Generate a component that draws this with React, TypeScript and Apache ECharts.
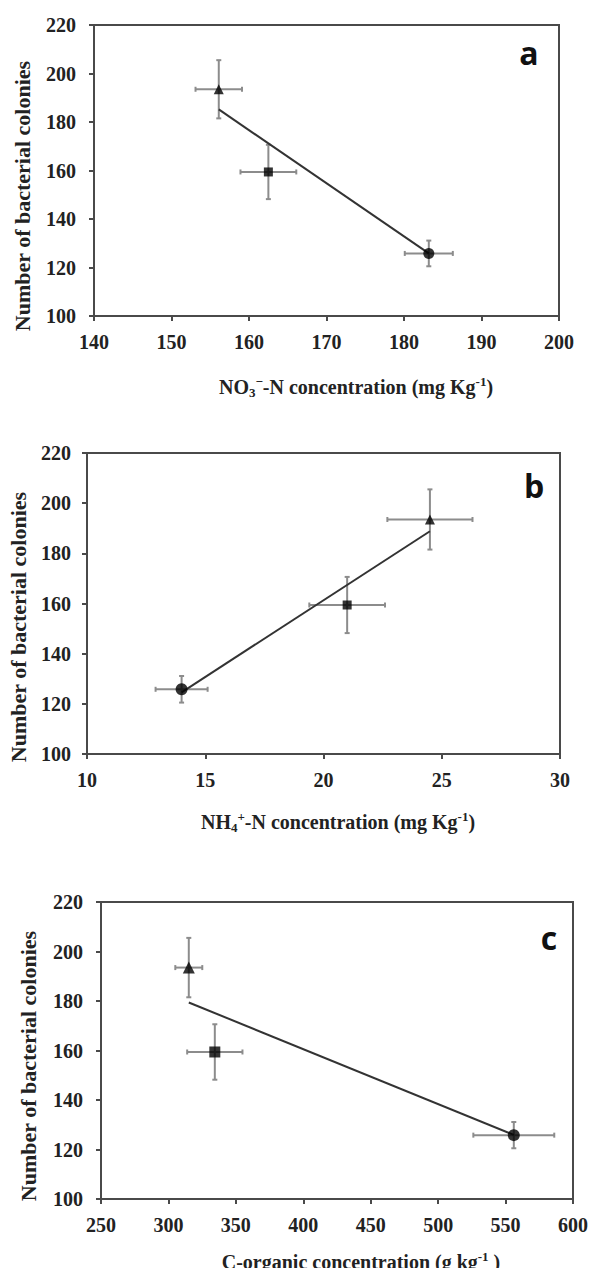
import React, { useEffect, useRef } from "react";
import * as echarts from "echarts";

// ---- data ----
const treatmentSymbols = ["triangle", "rect", "circle"];
const colonies = [193.5, 159.4, 125.8];
const coloniesErr = [12, 11.2, 5.3];

const no3 = [156.1, 162.5, 183.2];
const no3Err = [3.0, 3.6, 3.1];
const no3Trend = [[156.1, 185.2], [183.2, 125.8]];

const nh4 = [24.5, 21.0, 14.0];
const nh4Err = [1.8, 1.6, 1.1];
const nh4Trend = [[14.0, 124.6], [24.5, 188.8]];

const corg = [315.1, 334.4, 556.1];
const corgErr = [10, 20.5, 30];
const corgTrend = [[315.1, 179.4], [556.1, 125.9]];

const yTitle = "Number of bacterial colonies";
const xTitles = [
  "{t|NO}{sub|3}{sup|−}{t|-N concentration (mg Kg}{sup|-1}{t|)}",
  "{t|NH}{sub|4}{sup|+}{t|-N concentration (mg Kg}{sup|-1}{t|)}",
  "{t|C-organic concentration (g kg}{sup|-1}{t| )}",
];
const panelLetters = ["a", "b", "c"];

const SERIF = "Liberation Serif";
const AXIS = "#4a4a4a";

const App: React.FC = () => {
  const ref = useRef<HTMLDivElement>(null);

  useEffect(() => {
    if (!ref.current) return;
    const chart = echarts.init(ref.current, undefined, { renderer: "svg" });

    const grids = [
      { left: 94, top: 25, width: 465, height: 291 },
      { left: 87, top: 453, width: 473, height: 301 },
      { left: 101, top: 902, width: 474, height: 297 },
    ];
    const xRanges = [
      { min: 140, max: 200, interval: 10 },
      { min: 10, max: 30, interval: 5 },
      { min: 250, max: 600, interval: 50 },
    ];
    const yLabelMargins = [18, 16, 18];
    const xs = [no3, nh4, corg];
    const xErrs = [no3Err, nh4Err, corgErr];
    const trends = [no3Trend, nh4Trend, corgTrend];
    const symSizes = [
      [10, 9, 11],
      [10, 9, 12],
      [12, 11, 12],
    ];
    const letterPos = [
      [529, 52],
      [534, 485],
      [549, 937],
    ];
    const yTitlePos = [
      [22, 196],
      [18, 627],
      [28, 1066],
    ];
    const xTitlePos = [
      [356, 387],
      [338, 822],
      [361, 1262],
    ];

    const rich = {
      t: { fontFamily: SERIF, fontWeight: "bold", fontSize: 20, fill: "#222", lineHeight: 24 },
      sub: { fontFamily: SERIF, fontWeight: "bold", fontSize: 13, fill: "#222", verticalAlign: "bottom", lineHeight: 24 },
      sup: { fontFamily: SERIF, fontWeight: "bold", fontSize: 13, fill: "#222", verticalAlign: "top", lineHeight: 16 },
    };

    const axisCommon = {
      axisLine: { show: true, onZero: false, lineStyle: { color: AXIS, width: 2 } },
      axisTick: { show: true, inside: false, length: 5, lineStyle: { color: AXIS, width: 2 } },
      splitLine: { show: false },
    };

    const xAxis = grids.map((_, i) => ({
      type: "value",
      gridIndex: i,
      ...xRanges[i],
      ...axisCommon,
      axisLabel: { margin: 16, fontFamily: SERIF, fontWeight: "bold", fontSize: 20, color: "#222" },
    }));

    const yAxis = grids.map((_, i) => ({
      type: "value",
      gridIndex: i,
      min: 100,
      max: 220,
      interval: 20,
      ...axisCommon,
      axisLabel: { margin: yLabelMargins[i], fontFamily: SERIF, fontWeight: "bold", fontSize: 20, color: "#222" },
    }));

    const series: any[] = [];
    grids.forEach((_, i) => {
      const errData = colonies.map((c, k) => [xs[i][k], c, xErrs[i][k], coloniesErr[k]]);
      series.push({
        type: "custom",
        xAxisIndex: i,
        yAxisIndex: i,
        z: 2,
        encode: { x: 0, y: 1 },
        data: errData,
        renderItem: (params: any, api: any) => {
          const x = api.value(0);
          const y = api.value(1);
          const ex = api.value(2);
          const ey = api.value(3);
          const l = api.coord([x - ex, y]);
          const r = api.coord([x + ex, y]);
          const t = api.coord([x, y + ey]);
          const b = api.coord([x, y - ey]);
          const cap = 2.5;
          const style = { stroke: "#8c8c8c", lineWidth: 2 };
          return {
            type: "group",
            children: [
              { type: "line", shape: { x1: l[0], y1: l[1], x2: r[0], y2: r[1] }, style },
              { type: "line", shape: { x1: t[0], y1: t[1], x2: b[0], y2: b[1] }, style },
              { type: "line", shape: { x1: l[0], y1: l[1] - cap, x2: l[0], y2: l[1] + cap }, style },
              { type: "line", shape: { x1: r[0], y1: r[1] - cap, x2: r[0], y2: r[1] + cap }, style },
              { type: "line", shape: { x1: t[0] - cap, y1: t[1], x2: t[0] + cap, y2: t[1] }, style },
              { type: "line", shape: { x1: b[0] - cap, y1: b[1], x2: b[0] + cap, y2: b[1] }, style },
            ],
          };
        },
      });
      series.push({
        type: "line",
        xAxisIndex: i,
        yAxisIndex: i,
        z: 3,
        data: trends[i],
        symbol: "none",
        lineStyle: { color: "#333", width: 2 },
      });
      colonies.forEach((c, k) => {
        series.push({
          type: "scatter",
          xAxisIndex: i,
          yAxisIndex: i,
          z: 4,
          symbol: treatmentSymbols[k],
          symbolSize: symSizes[i][k],
          itemStyle: { color: "#000" },
          data: [[xs[i][k], c]],
        });
      });
    });

    const graphic: any[] = [];
    panelLetters.forEach((s, i) => {
      graphic.push({
        type: "text",
        x: letterPos[i][0],
        y: letterPos[i][1],
        style: {
          text: s,
          fontFamily: "Open Sans",
          fontWeight: "bold",
          fontSize: 32,
          fill: "#111",
          align: "center",
          verticalAlign: "middle",
        },
      });
      graphic.push({
        type: "text",
        x: yTitlePos[i][0],
        y: yTitlePos[i][1],
        rotation: Math.PI / 2,
        style: {
          text: yTitle,
          fontFamily: SERIF,
          fontWeight: "bold",
          fontSize: 22,
          fill: "#222",
          align: "center",
          verticalAlign: "middle",
        },
      });
      graphic.push({
        type: "text",
        x: xTitlePos[i][0],
        y: xTitlePos[i][1],
        style: {
          text: xTitles[i],
          rich,
          align: "center",
          verticalAlign: "middle",
        },
      });
    });

    chart.setOption({
      animation: false,
      backgroundColor: "#fff",
      grid: grids.map((g) => ({ ...g, show: true, borderColor: AXIS, borderWidth: 2, backgroundColor: "transparent" })),
      xAxis,
      yAxis,
      series,
      graphic,
    });

    return () => chart.dispose();
  }, []);

  return (
    <div
      ref={ref}
      style={{ position: "absolute", left: 0, top: 0, width: 591, height: 1268, background: "#fff" }}
    />
  );
};

export default App;
